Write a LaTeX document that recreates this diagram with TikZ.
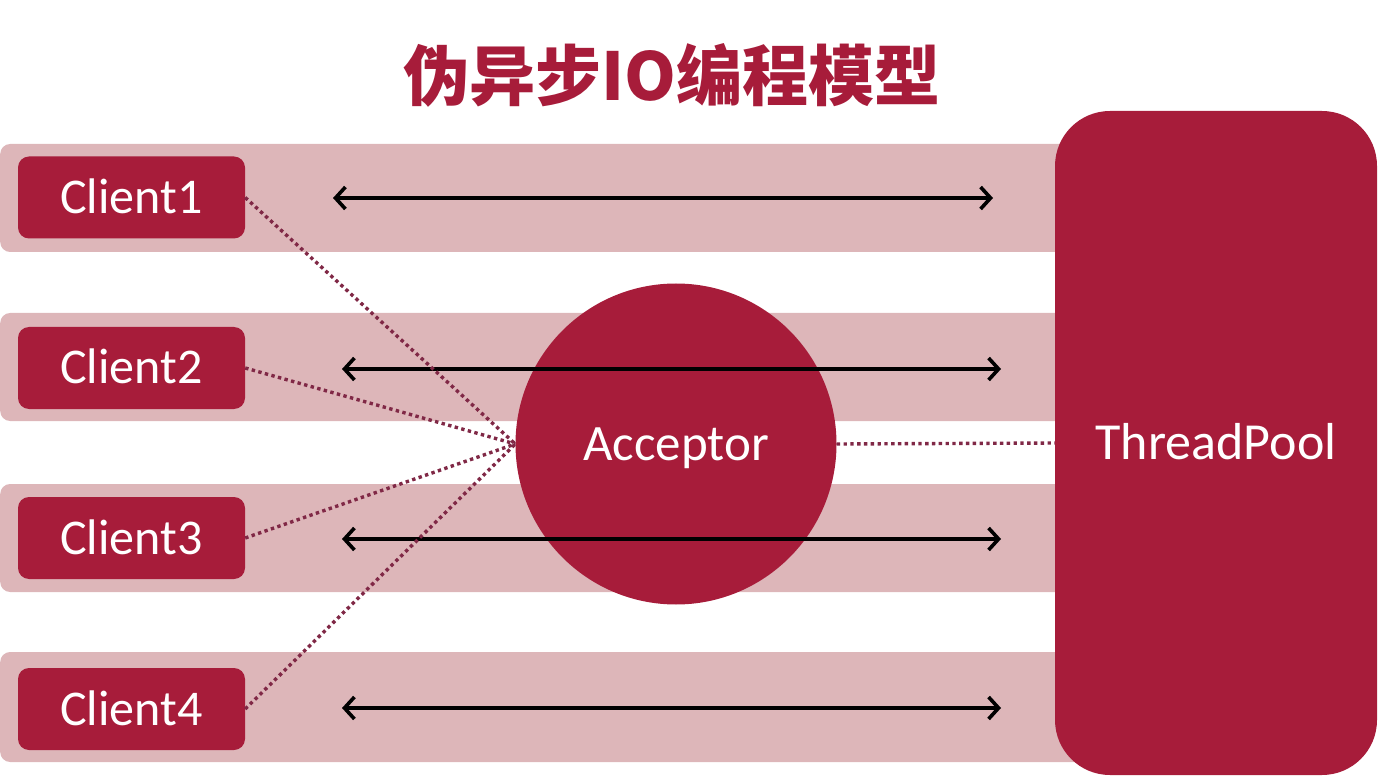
\documentclass[tikz,border=0pt]{standalone}
\usepackage{fontspec}
\setmainfont{Carlito}
\newfontfamily\cjk{Noto Sans CJK SC}
\usepackage{xcolor}
\usetikzlibrary{arrows.meta, positioning}
\definecolor{dred}{RGB}{167,28,58}
\definecolor{band}{RGB}{221,182,185}
\definecolor{dots}{RGB}{128,40,70}

\begin{document}
\begin{tikzpicture}[
  x=1pt, y=-1pt,
  bandbox/.style={fill=band, rounded corners=10pt, minimum width=1100pt, minimum height=108pt, anchor=west, inner sep=0pt},
  client/.style={fill=dred, text=white, rounded corners=11pt, minimum width=227pt, minimum height=82pt, inner sep=0pt, font=\fontsize{50}{60}\selectfont, text height=32pt, text depth=0pt},
  link/.style={dots, line width=3.4pt, dash pattern=on 3.4pt off 3.4pt},
  flow/.style={<->, >={Straight Barb[length=10pt, width=22pt, line width=3.6pt]}, line width=3.4pt}
]
  \useasboundingbox (0,0) rectangle (1384,783);

  \node[text=dred, font=\cjk\bfseries\fontsize{66}{74}\selectfont] (title) at (672,75) {伪异步IO编程模型};

  % lanes
  \node[bandbox] (b1) at (0,198) {};
  \node[bandbox] (b2) at (0,367) {};
  \node[bandbox] (b3) at (0,538) {};
  \node[bandbox, minimum height=110pt] (b4) at (0,707) {};

  \node[client] (c1) at (131.5,197.5) {Client1};
  \node[client] (c2) at (131.5,368) {Client2};
  \node[client] (c3) at (131.5,538) {Client3};
  \node[client] (c4) at (131.5,709) {Client4};

  \node[circle, fill=dred, minimum size=321pt, inner sep=0pt, text=white,
        font=\fontsize{51}{60}\selectfont, text height=32pt, text depth=0pt] (acc) at (676,444) {Acceptor};

  \coordinate (l1) at (333,198);  \coordinate (r1) at (993,198);
  \coordinate (l2) at (342,369);  \coordinate (r2) at (1001,369);
  \coordinate (l3) at (342,539);  \coordinate (r3) at (1001,539);
  \coordinate (l4) at (342,708);  \coordinate (r4) at (1001,708);
  \draw[flow] (l1) -- (r1);
  \draw[flow] (l2) -- (r2);
  \draw[flow] (l3) -- (r3);
  \draw[flow] (l4) -- (r4);

  \draw[link] (c1.east) -- (acc.west);
  \draw[link] (c2.east) -- (acc.west);
  \draw[link] (c3.east) -- (acc.west);
  \draw[link] (c4.east) -- (acc.west);

  \node[fill=dred, rounded corners=55pt, minimum width=322pt, minimum height=664pt, inner sep=0pt, text=white,
        font=\fontsize{52}{60}\selectfont, text height=32pt, text depth=0pt] (tp) at (1216,443) {ThreadPool};
  \draw[link] (acc.east) -- (tp.west);
\end{tikzpicture}
\end{document}
